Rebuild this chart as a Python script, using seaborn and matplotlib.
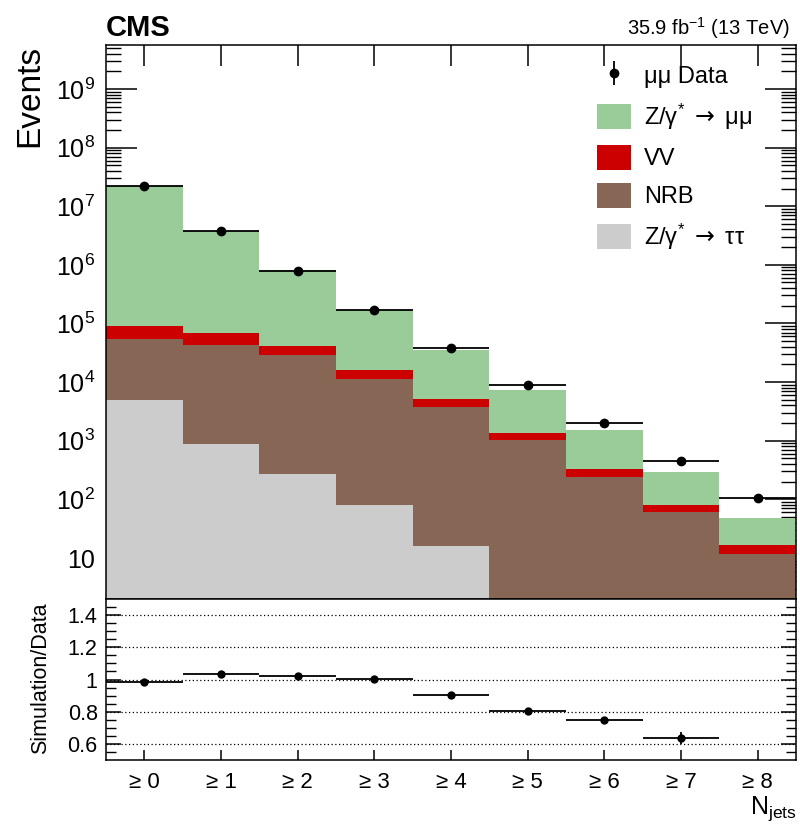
import numpy as np
import pandas as pd
import matplotlib
matplotlib.use("Agg")
import matplotlib.pyplot as plt
import matplotlib.ticker as mticker
from matplotlib.patches import Patch
import seaborn as sns

# ---------------- data ----------------
categories = ["\u2265 0", "\u2265 1", "\u2265 2", "\u2265 3", "\u2265 4",
              "\u2265 5", "\u2265 6", "\u2265 7", "\u2265 8"]
data_counts = [2.23e7, 3.7e6, 7.9e5, 1.7e5, 3.85e4, 8.9e3, 1.97e3, 444, 107]
dy_tautau = [4900, 880, 276, 79, 15.8, 0, 0, 0, 0]
nrb = [50100, 42100, 28200, 11300, 3680, 1010, 245, 61, 11.8]
vv = [37000, 25000, 12500, 4600, 1400, 370, 91, 20, 4.6]
dy_mumu = [21908000, 3732000, 769000, 154000, 29900, 5920, 1164, 212, 32.6]
ratio_vals = [0.986, 1.032, 1.024, 1.002, 0.902, 0.806, 0.749, 0.637]
ratio_errs = [0.003, 0.004, 0.005, 0.006, 0.008, 0.010, 0.016, 0.040]
ytick_vals = [1e1, 1e2, 1e3, 1e4, 1e5, 1e6, 1e7, 1e8, 1e9]
ytick_labels = ["10", "$10^{2}$", "$10^{3}$", "$10^{4}$", "$10^{5}$",
                "$10^{6}$", "$10^{7}$", "$10^{8}$", "$10^{9}$"]
rtick_vals = [0.6, 0.8, 1.0, 1.2, 1.4]
rtick_labels = ["0.6", "0.8", "1", "1.2", "1.4"]

col_mumu = "#99cc99"
col_vv = "#cc0000"
col_nrb = "#886655"
col_tautau = "#cccccc"

sns.set_theme(style="ticks")
plt.rcParams["font.family"] = ["Liberation Sans", "DejaVu Sans"]
plt.rcParams["mathtext.fontset"] = "custom"
plt.rcParams["mathtext.rm"] = "Liberation Sans"
plt.rcParams["mathtext.it"] = "Liberation Sans:italic"
plt.rcParams["mathtext.bf"] = "Liberation Sans:bold"
plt.rcParams["mathtext.sf"] = "DejaVu Sans"
for k in ["axes.edgecolor", "xtick.color", "ytick.color", "text.color",
          "axes.labelcolor"]:
    plt.rcParams[k] = "black"
plt.rcParams["axes.linewidth"] = 1.1

fig = plt.figure(figsize=(8, 8.34), dpi=100)
W, H = 800.0, 834.0
ax = fig.add_axes([106 / W, 1 - 599 / H, 690 / W, 554 / H])
rax = fig.add_axes([106 / W, 1 - 760 / H, 690 / W, 161 / H])

# cumulative stack tops
t1 = np.array(dy_tautau)
t2 = t1 + np.array(nrb)
t3 = t2 + np.array(vv)
t4 = t3 + np.array(dy_mumu)

df = pd.DataFrame({"cat": categories, "t1": t1, "t2": t2, "t3": t3, "t4": t4})
for col, c in [("t4", col_mumu), ("t3", col_vv), ("t2", col_nrb), ("t1", col_tautau)]:
    sns.barplot(data=df, x="cat", y=col, color=c, saturation=1, width=1.0,
                errorbar=None, linewidth=0, ax=ax, order=categories)

x = np.arange(len(categories))
ax.errorbar(x, data_counts, xerr=0.5, yerr=np.sqrt(data_counts), fmt="o",
            color="black", markersize=6, elinewidth=1.3, capsize=0, zorder=5)

ax.set_yscale("log")
ax.set_xlim(-0.5, 8.5)
ax.set_ylim(2.0, 5.6e9)
ax.set_xlabel("")
ax.set_ylabel("")
ax.yaxis.set_major_locator(mticker.FixedLocator(ytick_vals))
ax.yaxis.set_major_formatter(mticker.FixedFormatter(ytick_labels))
minor_vals = [m * d for d in [1, 10, 1e2, 1e3, 1e4, 1e5, 1e6, 1e7, 1e8, 1e9]
              for m in range(2, 10) if 2.0 <= m * d <= 5.6e9]
ax.yaxis.set_minor_locator(mticker.FixedLocator(minor_vals))
ax.yaxis.set_minor_formatter(mticker.NullFormatter())
ax.set_xticks(x)
ax.tick_params(axis="x", which="major", direction="in", length=15, width=1.1,
               top=True, bottom=True, labelbottom=False)
ax.tick_params(axis="y", which="major", direction="in", length=22, width=1.1,
               left=True, right=True, labelsize=18, pad=8)
ax.tick_params(axis="y", which="minor", direction="in", length=11, width=1.0,
               left=True, right=True)

# legend
h_data = ax.errorbar([np.nan], [np.nan], yerr=[1], fmt="o", color="black",
                     markersize=6, elinewidth=1.3, capsize=0)
handles = [h_data,
           Patch(facecolor=col_mumu, edgecolor="none"),
           Patch(facecolor=col_vv, edgecolor="none"),
           Patch(facecolor=col_nrb, edgecolor="none"),
           Patch(facecolor=col_tautau, edgecolor="none")]
labels = ["\u03bc\u03bc Data",
          "Z/\u03b3$^{*}$ $\\mathsf{\\rightarrow}$ \u03bc\u03bc",
          "VV",
          "NRB",
          "Z/\u03b3$^{*}$ $\\mathsf{\\rightarrow}$ \u03c4\u03c4"]
ax.legend(handles, labels, loc="upper left",
          bbox_to_anchor=(597 / W, 1 - 63 / H), bbox_transform=fig.transFigure,
          frameon=False, fontsize=17, handlelength=1.45, handleheight=1.25,
          handletextpad=0.55, labelspacing=0.55, borderpad=0, borderaxespad=0)

# ratio panel
rx = np.arange(len(ratio_vals))
rdf = pd.DataFrame({"x": rx, "r": ratio_vals})
rax.errorbar(rx, ratio_vals, xerr=0.5, yerr=ratio_errs, fmt="none",
             ecolor="black", elinewidth=1.3, capsize=0, zorder=4)
sns.scatterplot(data=rdf, x="x", y="r", color="black", s=36, edgecolor="black",
                linewidth=0, ax=rax, zorder=5)
for g in rtick_vals:
    rax.axhline(g, color="black", linestyle=(0, (1, 2)), linewidth=0.9, zorder=1)
rax.set_xlim(-0.5, 8.5)
rax.set_ylim(0.5, 1.5)
rax.set_xticks(x)
rax.set_xticklabels(categories)
rax.yaxis.set_major_locator(mticker.FixedLocator(rtick_vals))
rax.yaxis.set_major_formatter(mticker.FixedFormatter(rtick_labels))
rax.yaxis.set_minor_locator(mticker.FixedLocator(
    [v / 100 for v in range(55, 150, 5) if v % 20 != 0]))
rax.yaxis.set_minor_formatter(mticker.NullFormatter())
rax.set_xlabel("")
rax.set_ylabel("")
rax.tick_params(axis="x", which="major", direction="in", length=7, width=1.1,
                top=False, bottom=True, labelsize=16, pad=9)
rax.tick_params(axis="y", which="major", direction="in", length=11, width=1.1,
                left=True, right=True, labelsize=15.5, pad=6)
rax.tick_params(axis="y", which="minor", direction="in", length=7, width=1.0,
                left=True, right=True)

# texts
fig.text(106 / W, 1 - 36 / H, "CMS", fontsize=21, fontweight="bold",
         ha="left", va="baseline")
fig.text(790 / W, 1 - 35 / H, "35.9 fb$^{-1}$ (13 TeV)", fontsize=14.5,
         ha="right", va="baseline")
fig.text(30 / W, 1 - 45 / H, "Events", fontsize=24, rotation=90,
         ha="center", va="top")
fig.text(41 / W, 1 - 678 / H, "Simulation/Data", fontsize=15.5, rotation=90,
         ha="center", va="center")
fig.text(797 / W, 1 - 814 / H, r"N$_{\mathregular{jets}}$", fontsize=18,
         ha="right", va="baseline")

fig.savefig("out.png", dpi=100)
